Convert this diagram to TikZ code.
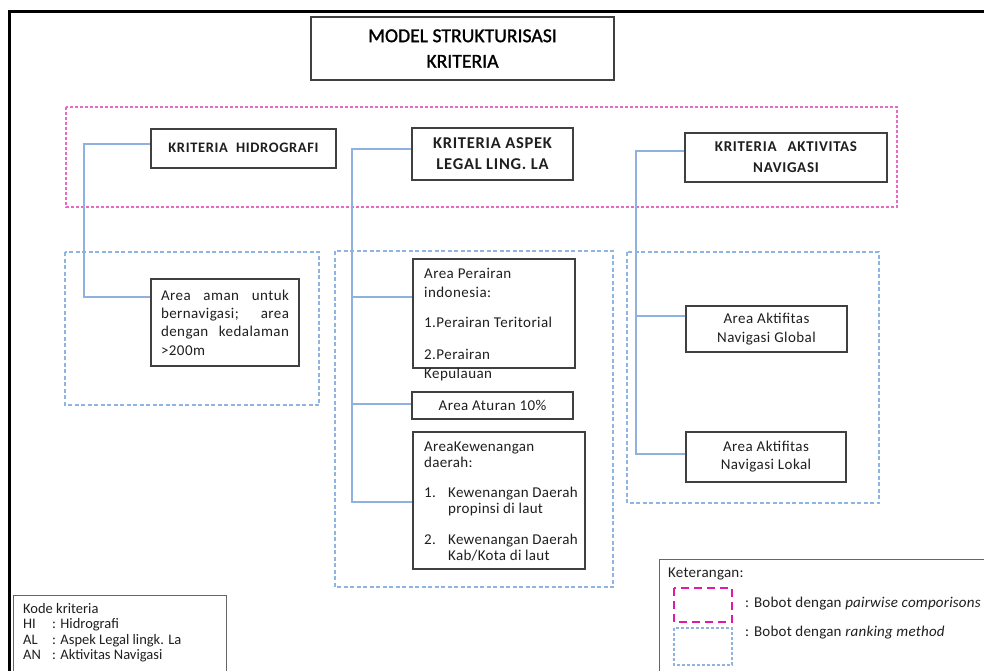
\documentclass[tikz,border=0pt]{standalone}
\usepackage{fontspec}
\setmainfont{Carlito}
\newfontfamily\bodyf[LetterSpace=3]{Carlito}
\newfontfamily\kewf[LetterSpace=2]{Carlito}
\newfontfamily\headf[LetterSpace=4.5]{Carlito}
\newfontfamily\titlef[FakeBold=1.2]{Carlito}
\newfontfamily\legf[LetterSpace=1.5]{Carlito}
\definecolor{boxgray}{HTML}{404040}
\definecolor{pinkd}{HTML}{E868C8}
\definecolor{blued}{HTML}{8DB4E2}
\definecolor{connblue}{HTML}{8EB1E0}
\definecolor{magleg}{HTML}{E01AA8}
\begin{document}
\begin{tikzpicture}[x=1pt,y=-1pt,
  box/.style={draw=boxgray, line width=1.3pt, fill=white, inner sep=0pt},
  thinbox/.style={draw=boxgray!80, line width=0.9pt, fill=white, inner sep=0pt},
  pinkgroup/.style={draw=pinkd, line width=1.2pt, dash pattern=on 3pt off 2pt},
  bluegroup/.style={draw=blued, line width=1.1pt, dash pattern=on 4pt off 2.5pt},
  conn/.style={draw=connblue, line width=1.2pt},
  txt/.style={font=\bodyf\fontsize{15}{19}\selectfont, text=black!88, inner sep=0pt},
  head/.style={text=black!88, inner sep=0pt, align=center},
  small/.style={font=\legf\fontsize{15}{18}\selectfont, text=black!88, inner sep=0pt}]
\useasboundingbox (0,0) rectangle (984,670);
\clip (0,0) rectangle (984,670);
\fill[white] (0,0) rectangle (984,670);
% outer frame
\draw[line width=3.5pt, black] (9.5,690) -- (9.5,11.5) -- (1000,11.5);
% groups
\draw[pinkgroup] (66,107) rectangle (897,207);
\draw[bluegroup] (65,252) rectangle (319,405);
\draw[bluegroup] (335,251) rectangle (613,587);
\draw[bluegroup] (627,252) rectangle (879,503);
% title
\node[box, minimum width=303pt, minimum height=63pt, align=center, text=black,
      font=\titlef\fontsize{19.7}{25.5}\selectfont] (title) at (462.5,48.5) {MODEL STRUKTURISASI\\KRITERIA};
% criteria boxes
\node[box, head, minimum width=185pt, minimum height=39pt,
      font=\headf\bfseries\fontsize{14.5}{19}\selectfont] (hid) at (243.5,148.5) {\raisebox{1.5pt}{KRITERIA\hspace{8pt}HIDROGRAFI}};
\node[box, head, minimum width=161pt, minimum height=52pt,
      font=\headf\bfseries\fontsize{16.5}{21}\selectfont] (leg) at (492.5,154) {KRITERIA ASPEK\\LEGAL LING. LA};
\node[box, head, minimum width=202pt, minimum height=49pt,
      font=\headf\bfseries\fontsize{15}{21}\selectfont] (akt) at (786,157.5) {KRITERIA\hspace{11pt}AKTIVITAS\\NAVIGASI};
% sub boxes
\node[box, txt, minimum width=148pt, minimum height=87pt, text width=128pt, align=left, font=\bodyf\fontsize{15}{18.3}\selectfont] (aman) at (225,322.5)
  {\makebox[128pt][s]{Area\hfill aman\hfill untuk}\\\makebox[128pt][s]{bernavigasi;\hfill area}\\\makebox[128pt][s]{dengan\hfill kedalaman}\\>200m};
\node[box, minimum width=162pt, minimum height=109pt] (per) at (494,313.5) {};
\node[txt, anchor=north west, align=left] (pertext) at (424,268)
  {Area Perairan\\indonesia:\\[11pt]1.Perairan Teritorial\\[13pt]2.Perairan\\Kepulauan};
\node[box, txt, minimum width=161pt, minimum height=27pt] (atur) at (492.5,405.5) {Area Aturan 10\%};
\node[box, minimum width=172pt, minimum height=137pt] (kew) at (499,500.5) {};
\node[txt, anchor=north west, align=left, font=\kewf\fontsize{15}{16}\selectfont] (kewtext) at (424,442)
  {AreaKewenangan\\daerah:\\[14pt]\makebox[24pt][l]{1.}Kewenangan Daerah\\\hspace*{24pt}propinsi di laut\\[15pt]\makebox[24pt][l]{2.}Kewenangan Daerah\\\hspace*{24pt}Kab/Kota di laut};
\node[box, txt, minimum width=161pt, minimum height=46pt, align=center] (glob) at (766.5,329) {Area Aktifitas\\Navigasi Global};
\node[box, txt, minimum width=160pt, minimum height=50pt, align=center, font=\bodyf\fontsize{15}{18}\selectfont] (lok) at (766,457) {Area Aktifitas\\Navigasi Lokal};
% connector attachment points
\coordinate (hidp) at ([yshift=4.5pt]hid.west);
\coordinate (amanp) at ([yshift=25.5pt]aman.west);
\coordinate (legp) at ([yshift=5pt]leg.west);
\coordinate (perp) at ([yshift=16.5pt]per.west);
\coordinate (aturp) at ([yshift=1.5pt]atur.west);
\coordinate (kewp) at ([yshift=-1.5pt]kew.west);
\coordinate (aktp) at ([yshift=6.5pt]akt.west);
\coordinate (globp) at ([yshift=13pt]glob.west);
\coordinate (lokp) at ([yshift=3pt]lok.west);
\coordinate (hv) at (84,0);
\coordinate (lv) at (352,0);
\coordinate (av) at (636,0);
\draw[conn] (hidp) -| (hv |- amanp) -- (amanp);
\draw[conn] (legp) -| (lv |- kewp) -- (kewp);
\draw[conn] (lv |- perp) -- (perp);
\draw[conn] (lv |- aturp) -- (aturp);
\draw[conn] (aktp) -| (av |- lokp) -- (lokp);
\draw[conn] (av |- globp) -- (globp);
% legend
\node[thinbox, anchor=north west, minimum width=340pt, minimum height=130pt] (legend) at (659,559) {};
\node[small, anchor=west] (ket) at (668,574) {Keterangan:};
\draw[magleg, line width=2.4pt, dash pattern=on 8pt off 5pt] (674,588) rectangle (732,622);
\draw[blued, line width=1.1pt, dash pattern=on 3pt off 2pt] (674,628) rectangle (732,665);
\node[small, anchor=west] (l1) at (745,604) {: Bobot dengan \textit{pairwise comporisons}};
\node[small, anchor=west] (l2) at (745,633) {: Bobot dengan \textit{ranking method}};
% kode kriteria
\node[thinbox, anchor=north west, minimum width=213pt, minimum height=90pt] (kode) at (13,595) {};
\node[anchor=north west, align=left, inner sep=0pt, text=black!88, font=\fontsize{14.5}{15.4}\selectfont] (kodetext) at (23,603)
  {Kode kriteria\\\makebox[29pt][l]{HI}: Hidrografi\\\makebox[29pt][l]{AL}: Aspek Legal lingk. La\\\makebox[29pt][l]{AN}: Aktivitas Navigasi};
\end{tikzpicture}
\end{document}
